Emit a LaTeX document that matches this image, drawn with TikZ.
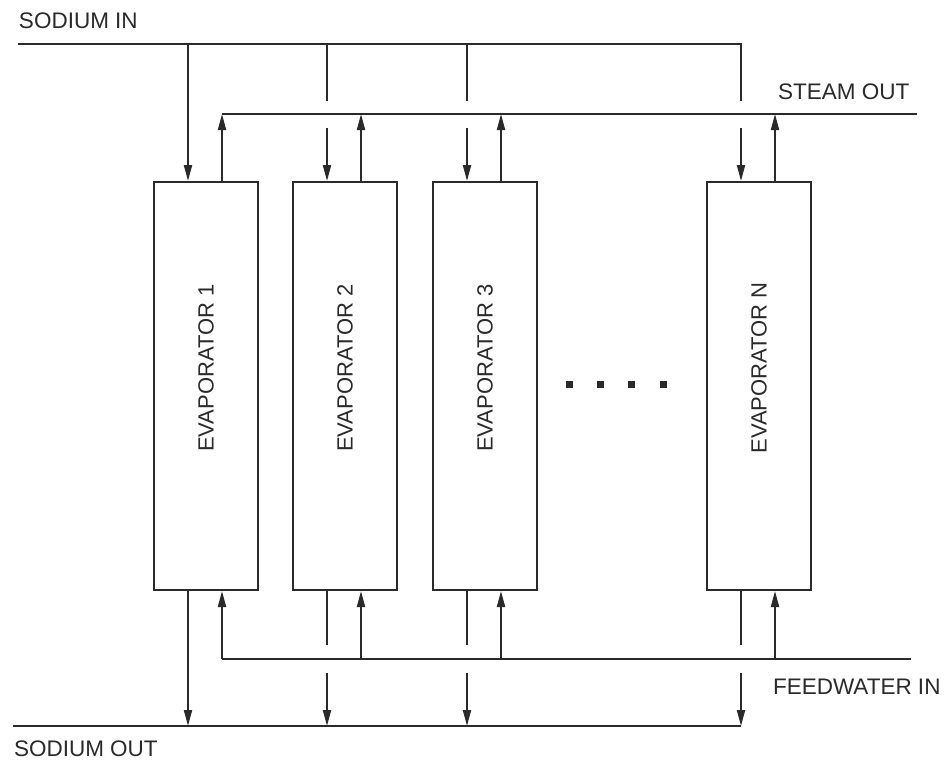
\documentclass[tikz,border=0pt]{standalone}
\usepackage{fontspec}
\setmainfont{Liberation Sans}
\usetikzlibrary{arrows.meta}
\definecolor{ink}{RGB}{42,42,42}
\begin{document}
\begin{tikzpicture}[x=1pt,y=-1pt, line width=2pt, color=ink,
  evap/.style={draw, minimum width=104pt, minimum height=408pt, inner sep=0pt},
  evlabel/.style={rotate=90, font=\fontsize{22}{26}\selectfont, inner sep=0pt},
  lbl/.style={anchor=base west, font=\fontsize{22.5}{27}\selectfont, inner sep=0pt},
  flow/.style={-{Triangle[length=16pt,width=8pt]}},
  dotsq/.style={fill, minimum size=7pt, inner sep=0pt}]
\useasboundingbox[fill=white] (0,0) rectangle (946,761);

% evaporators
\node[evap] (e1) at (206,386) {};
\node[evap] (e2) at (345,386) {};
\node[evap] (e3) at (485,386) {};
\node[evap] (eN) at (759,386) {};
\node[evlabel] (t1) at (206,368) {EVAPORATOR 1};
\node[evlabel] (t2) at (345,368) {EVAPORATOR 2};
\node[evlabel] (t3) at (485,368) {EVAPORATOR 3};
\node[evlabel] (tN) at (759,368) {EVAPORATOR N};

% dots
\node[dotsq] (p1) at (569,384) {};
\node[dotsq] (p2) at (600,384) {};
\node[dotsq] (p3) at (631,384) {};
\node[dotsq] (p4) at (663,384) {};

% labels
\node[lbl] (lsi) at (18,28) {SODIUM IN};
\node[lbl] (lso) at (777,99) {STEAM OUT};
\node[lbl] (lfw) at (772,694) {FEEDWATER IN};
\node[lbl] (lsu) at (13,756) {SODIUM OUT};

% connection points on the boxes
\foreach \b in {1,2,3,N}{
  \coordinate (d\b t) at ([xshift=35pt]e\b.north west);
  \coordinate (u\b t) at ([xshift=69pt]e\b.north west);
  \coordinate (d\b b) at ([xshift=35pt]e\b.south west);
  \coordinate (u\b b) at ([xshift=69pt]e\b.south west);
}
\coordinate (siL) at (18,44);
\coordinate (stR) at (917,114);
\coordinate (fwR) at (911,659);
\coordinate (soL) at (13,726);
\coordinate (gA) at (0,101);
\coordinate (gB) at (0,128);
\coordinate (gC) at (0,645);
\coordinate (gD) at (0,673);

% sodium in header
\draw (siL) -- (siL -| dNt) -- (dNt |- gA);
\draw[flow] (dNt |- gB) -- (dNt);
\draw[flow] (d1t |- siL) -- (d1t);
\draw (d2t |- siL) -- (d2t |- gA);
\draw[flow] (d2t |- gB) -- (d2t);
\draw (d3t |- siL) -- (d3t |- gA);
\draw[flow] (d3t |- gB) -- (d3t);

% steam out header
\draw (u1t |- stR) -- (stR);
\draw[flow] (u1t) -- (u1t |- stR);
\draw[flow] (u2t) -- (u2t |- stR);
\draw[flow] (u3t) -- (u3t |- stR);
\draw[flow] (uNt) -- (uNt |- stR);

% feedwater header
\draw (u1b |- fwR) -- (fwR);
\draw[flow] (u1b |- fwR) -- (u1b);
\draw[flow] (u2b |- fwR) -- (u2b);
\draw[flow] (u3b |- fwR) -- (u3b);
\draw[flow] (uNb |- fwR) -- (uNb);

% sodium out header
\draw (soL) -- (soL -| dNb);
\draw[flow] (d1b) -- (d1b |- soL);
\draw (d2b) -- (d2b |- gC);
\draw[flow] (d2b |- gD) -- (d2b |- soL);
\draw (d3b) -- (d3b |- gC);
\draw[flow] (d3b |- gD) -- (d3b |- soL);
\draw (dNb) -- (dNb |- gC);
\draw[flow] (dNb |- gD) -- (dNb |- soL);
\end{tikzpicture}
\end{document}
